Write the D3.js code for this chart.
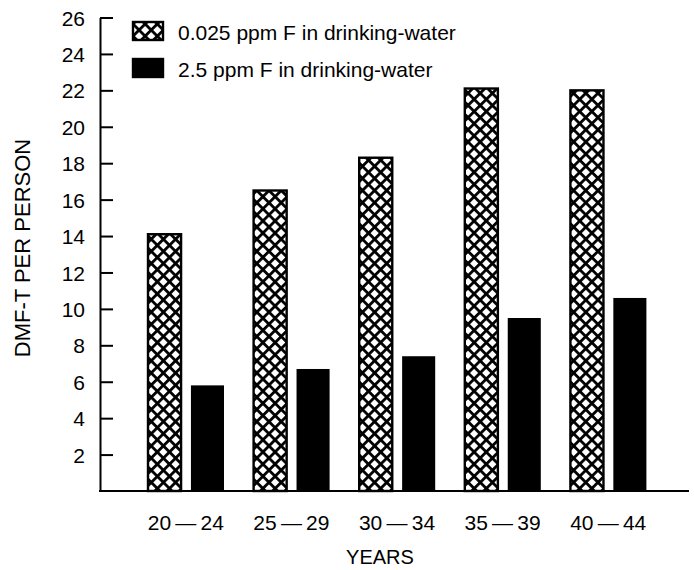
<!DOCTYPE html>
<html>
<head>
<meta charset="utf-8">
<script src="https://cdn.jsdelivr.net/npm/d3@7"></script>
<style>
  body { margin: 0; background: #fff; }
  svg text { font-family: "Liberation Sans", Arial, sans-serif; fill: #000; }
</style>
</head>
<body>
<svg id="chart" width="694" height="570"></svg>
<script>
// data
let ages = ["20\u2009\u2014\u200924", "25\u2009\u2014\u200929", "30\u2009\u2014\u200934", "35\u2009\u2014\u200939", "40\u2009\u2014\u200944"];
let seriesNames = ["0.025 ppm F in drinking-water", "2.5 ppm F in drinking-water"];
let lowF = [14.1, 16.5, 18.3, 22.1, 22.0];
let highF = [5.8, 6.7, 7.4, 9.5, 10.6];
let yTicks = [2, 4, 6, 8, 10, 12, 14, 16, 18, 20, 22, 24, 26];

let svg = d3.select("#chart");

// cross hatch
let defs = svg.append("defs");
let pw = 8.6;
let pat = defs.append("pattern")
  .attr("id", "hatch")
  .attr("patternUnits", "userSpaceOnUse")
  .attr("width", pw)
  .attr("height", pw)
  .attr("patternTransform", "rotate(45)");
pat.append("rect").attr("width", pw).attr("height", pw).attr("fill", "#fff");
pat.append("rect").attr("x", 0).attr("y", 0).attr("width", 2.8).attr("height", pw).attr("fill", "#000");
pat.append("rect").attr("x", 0).attr("y", 0).attr("width", pw).attr("height", 2.8).attr("fill", "#000");

let fills = ["url(#hatch)", "#000"];

let y = d3.scaleLinear().domain([0, 26]).range([491, 17.5]);
let x0 = d3.scaleBand().domain(ages).range([133, 661]);
let x1 = d3.scaleBand().domain(seriesNames).range([15, 91]).paddingInner(0.23);

// y axis, ticks pointing into the plot
let yAxis = d3.axisLeft(y)
  .tickValues(yTicks)
  .tickSize(-13)
  .tickSizeOuter(0)
  .tickPadding(15)
  .tickFormat(d3.format("d"));

let gy = svg.append("g")
  .attr("transform", "translate(100,0)")
  .call(yAxis);
gy.select(".domain").attr("stroke-width", 2);
gy.selectAll(".tick line").attr("stroke-width", 2);
gy.selectAll(".tick text")
  .attr("font-size", 21)
  .attr("dy", "0.36em");

// bars
let groups = svg.selectAll("g.grp")
  .data(ages)
  .enter()
  .append("g")
  .attr("class", "grp")
  .attr("transform", (d) => "translate(" + x0(d) + ",0)");

groups.selectAll("rect")
  .data((d, i) => [
    { s: seriesNames[0], v: lowF[i], k: 0 },
    { s: seriesNames[1], v: highF[i], k: 1 }
  ])
  .enter()
  .append("rect")
  .attr("x", (d) => x1(d.s))
  .attr("y", (d) => y(d.v))
  .attr("width", x1.bandwidth())
  .attr("height", (d) => y(0) - y(d.v))
  .attr("fill", (d) => fills[d.k])
  .attr("stroke", "#000")
  .attr("stroke-width", (d) => d.k === 0 ? 2.4 : 0);

// baseline
svg.append("line")
  .attr("x1", 99)
  .attr("x2", 689)
  .attr("y1", y(0))
  .attr("y2", y(0))
  .attr("stroke", "#000")
  .attr("stroke-width", 2);

// category labels
svg.selectAll("text.cat")
  .data(ages)
  .enter()
  .append("text")
  .attr("class", "cat")
  .attr("x", (d) => x0(d) + x0.bandwidth() / 2)
  .attr("y", 530)
  .attr("text-anchor", "middle")
  .attr("font-size", 21)
  .text((d) => d);

svg.append("text")
  .attr("x", 380)
  .attr("y", 564)
  .attr("text-anchor", "middle")
  .attr("font-size", 20)
  .text("YEARS");

svg.append("text")
  .attr("transform", "translate(30,248) rotate(-90)")
  .attr("text-anchor", "middle")
  .attr("font-size", 22)
  .text("DMF-T PER PERSON");

// legend
let legend = svg.selectAll("g.leg")
  .data(seriesNames)
  .enter()
  .append("g")
  .attr("class", "leg")
  .attr("transform", (d, i) => "translate(133," + (22 + i * 37) + ")");

legend.append("rect")
  .attr("width", 30)
  .attr("height", 18)
  .attr("fill", (d, i) => fills[i])
  .attr("stroke", "#000")
  .attr("stroke-width", 2.4);

legend.append("text")
  .attr("x", 45)
  .attr("y", 18)
  .attr("font-size", 21)
  .text((d) => d);
</script>
</body>
</html>
